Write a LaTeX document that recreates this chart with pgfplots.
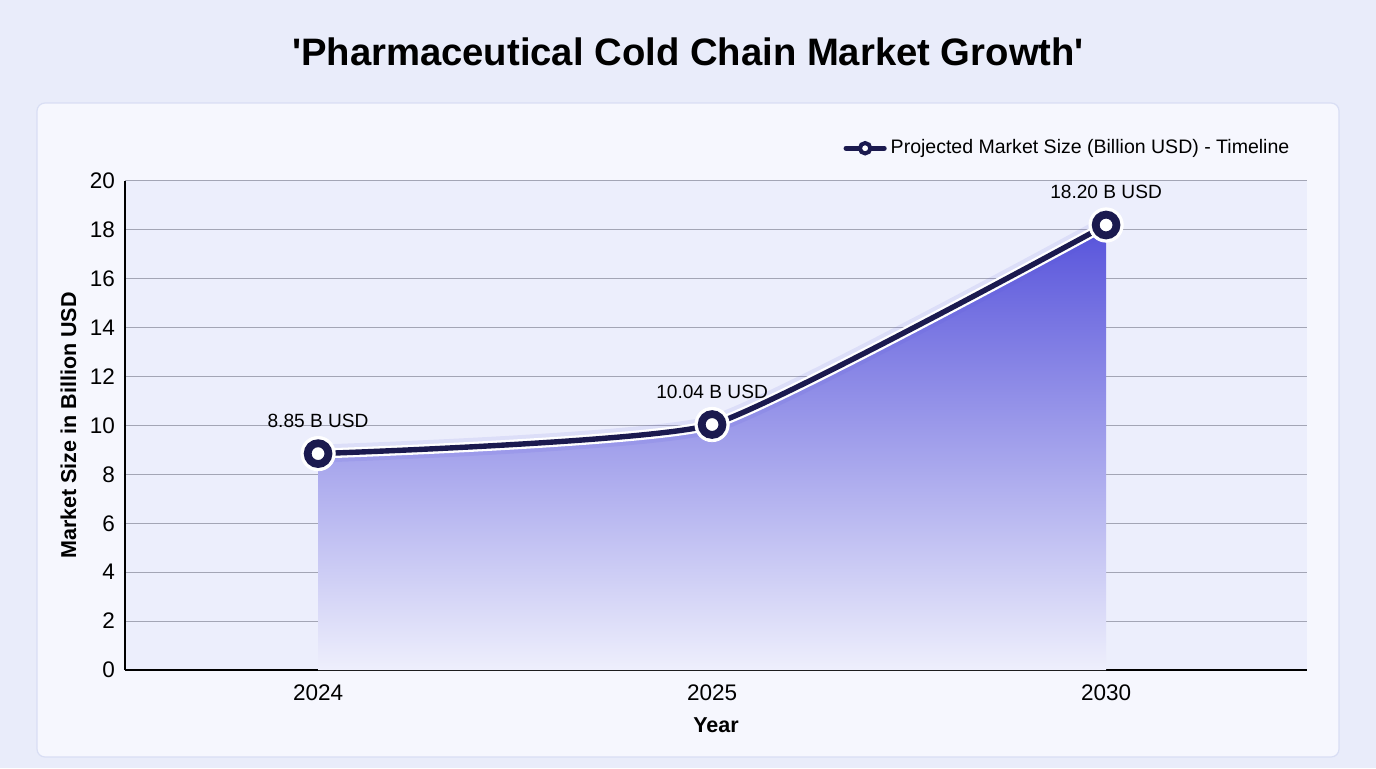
\documentclass[border=0pt]{standalone}
\usepackage{fontspec}
\setmainfont{Liberation Sans}
\usepackage{pgfplots}
\pgfplotsset{compat=1.18}
\definecolor{pagebg}{HTML}{E9ECFA}
\definecolor{cardbg}{HTML}{F6F7FE}
\definecolor{cardedge}{HTML}{D9DEF4}
\definecolor{plotbg}{HTML}{ECEEFC}
\definecolor{navy}{HTML}{1B1A4F}
\definecolor{areatop}{HTML}{5753DB}
\definecolor{areabot}{HTML}{EEEFFC}
\definecolor{gridc}{HTML}{A3A5B5}

\begin{document}
\begin{tikzpicture}[x=1bp,y=1bp]
% page and card
\fill[pagebg] (0,0) rectangle (688,384);
\filldraw[fill=cardbg, draw=cardedge, line width=0.6bp, rounded corners=4bp] (18.5,5.5) rectangle (669.5,332.5);
\node[font=\bfseries\fontsize{19.2}{23}\selectfont] at (344,358) {\textquotesingle Pharmaceutical Cold Chain Market Growth\textquotesingle};
\begin{axis}[
  at={(62.5bp,49bp)}, anchor=south west,
  scale only axis, width=591bp, height=244.5bp,
  xmin=-0.49, xmax=2.51, ymin=0, ymax=20,
  xtick={0,1,2}, xticklabels={2024,2025,2030},
  ytick={0,2,...,20},
  separate axis lines,
  axis x line*=bottom, axis y line*=left,
  every outer x axis line/.append style={-, line width=0.8bp, black},
  every outer y axis line/.append style={-, line width=0.8bp, black},
  axis background/.style={fill=plotbg},
  ymajorgrids, grid style={gridc, line width=0.5bp},
  major tick length=0pt,
  /pgf/number format/assume math mode=true,
  tick label style={font=\fontsize{11.3}{13}\selectfont},
  xticklabel style={yshift=-4bp},
  yticklabel style={xshift=-1.5bp},
  xlabel={Year}, ylabel={Market Size in Billion USD},
  label style={font=\bfseries\fontsize{10.8}{12}\selectfont},
  xlabel style={yshift=-1.5bp},
  legend style={at={(0.6025,1.067)}, anchor=west, draw=none, fill=none,
    font=\fontsize{9.8}{11}\selectfont, legend cell align=left},
  clip=false,
  smooth, tension=0.28,
]
% shaded area under the curve
\addplot[draw=none, top color=areatop, bottom color=areabot, forget plot]
  coordinates {(0,8.85) (1,10.04) (2,18.20)} \closedcycle;
% soft glow, white casing and the line itself
\addplot[line width=9bp, color=areatop, opacity=0.10, forget plot]
  coordinates {(0,8.85) (1,10.04) (2,18.20)};
\addplot[line width=5bp, white, forget plot]
  coordinates {(0,8.85) (1,10.04) (2,18.20)};
\addplot[line width=2.7bp, navy, forget plot]
  coordinates {(0,8.85) (1,10.04) (2,18.20)};
% markers with white halo and value labels
\addplot[white, only marks, mark=*, mark size=8.6bp, forget plot]
  coordinates {(0,8.85) (1,10.04) (2,18.20)};
\addplot[only marks, mark=*, mark size=5.2bp,
  mark options={fill=white, draw=navy, line width=3.9bp},
  nodes near coords, point meta=explicit symbolic,
  nodes near coords style={anchor=center, yshift=16.5bp, font=\fontsize{9.6}{11}\selectfont, text=black},
  forget plot]
  coordinates {(0,8.85) [8.85 B USD] (1,10.04) [10.04 B USD] (2,18.20) [18.20 B USD]};
\addlegendimage{legend image code/.code={
  \draw[navy, line width=2.6bp, line cap=round] (0bp,0bp) -- (19bp,0bp);
  \draw[navy, fill=white, line width=2bp] (9.5bp,0bp) circle (2.6bp);}}
\addlegendentry{Projected Market Size (Billion USD) - Timeline}
\end{axis}
\end{tikzpicture}
\end{document}
